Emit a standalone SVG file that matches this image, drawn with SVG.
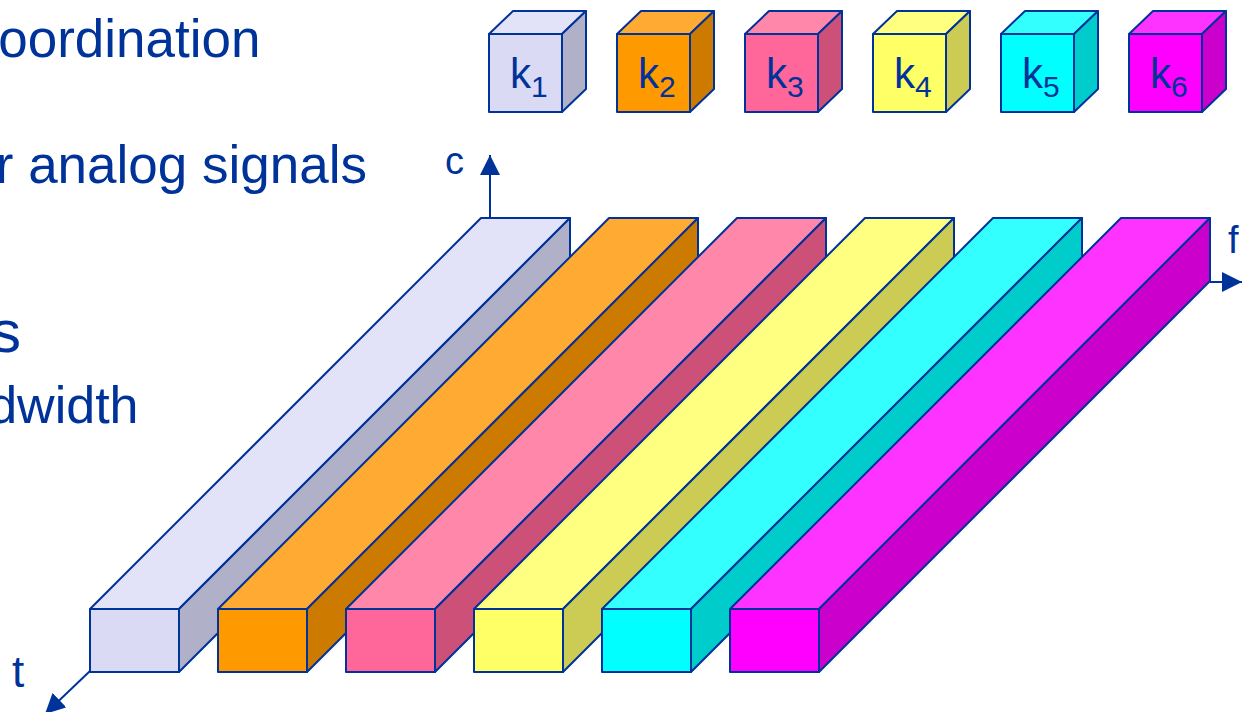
<svg xmlns="http://www.w3.org/2000/svg" width="1243" height="712" viewBox="0 0 1243 712">
  <defs>
    <style>
      .txt { font-family: "Liberation Sans", Arial, sans-serif; fill: #003399; }
      .edge { stroke: #003399; stroke-width: 2; stroke-linejoin: round; }
      .axis { stroke: #003399; stroke-width: 2; fill: none; }
      .c1f { fill: #dadaf4; } .c1t { fill: #e2e2f8; } .c1s { fill: #b0b0c8; }
      .c2f { fill: #ff9900; } .c2t { fill: #ffaa33; } .c2s { fill: #cc7a00; }
      .c3f { fill: #ff6699; } .c3t { fill: #ff88aa; } .c3s { fill: #cc5078; }
      .c4f { fill: #ffff66; } .c4t { fill: #ffff80; } .c4s { fill: #cccc55; }
      .c5f { fill: #00ffff; } .c5t { fill: #33ffff; } .c5s { fill: #00cccc; }
      .c6f { fill: #ff00ff; } .c6t { fill: #ff33ff; } .c6s { fill: #cc00cc; }
    </style>
    <marker id="arrow" markerUnits="userSpaceOnUse" markerWidth="20" markerHeight="20" refX="20" refY="10" orient="auto" viewBox="0 0 20 20">
      <path d="M0,0 L20,10 L0,20 Z" fill="#003399"/>
    </marker>
  </defs>

  <rect width="1243" height="712" fill="#ffffff"/>

  <!-- slide text, partly cut at the left edge -->
  <g id="slide-text">
    <text class="txt" x="260.5" y="57" font-size="53" text-anchor="end">oordination</text>
    <text class="txt" x="367" y="183" font-size="53" text-anchor="end">r analog signals</text>
    <text class="txt" x="21" y="352" font-size="60" text-anchor="end">s</text>
    <text class="txt" x="138.5" y="423" font-size="52" text-anchor="end">dwidth</text>
  </g>

  <!-- channel legend cubes -->
  <g id="cube-k1">
    <polygon class="edge c1t" points="489,34 513,11 586,11 562,34"/>
    <polygon class="edge c1s" points="562,34 586,11 586,89 562,112"/>
    <rect class="edge c1f" x="489" y="34" width="73" height="78"/>
    <text class="txt" x="510" y="88" font-size="42">k<tspan font-size="30" dy="9">1</tspan></text>
  </g>
  <g id="cube-k2">
    <polygon class="edge c2t" points="617,34 641,11 714,11 690,34"/>
    <polygon class="edge c2s" points="690,34 714,11 714,89 690,112"/>
    <rect class="edge c2f" x="617" y="34" width="73" height="78"/>
    <text class="txt" x="638" y="88" font-size="42">k<tspan font-size="30" dy="9">2</tspan></text>
  </g>
  <g id="cube-k3">
    <polygon class="edge c3t" points="745,34 769,11 842,11 818,34"/>
    <polygon class="edge c3s" points="818,34 842,11 842,89 818,112"/>
    <rect class="edge c3f" x="745" y="34" width="73" height="78"/>
    <text class="txt" x="766" y="88" font-size="42">k<tspan font-size="30" dy="9">3</tspan></text>
  </g>
  <g id="cube-k4">
    <polygon class="edge c4t" points="873,34 897,11 970,11 946,34"/>
    <polygon class="edge c4s" points="946,34 970,11 970,89 946,112"/>
    <rect class="edge c4f" x="873" y="34" width="73" height="78"/>
    <text class="txt" x="894" y="88" font-size="42">k<tspan font-size="30" dy="9">4</tspan></text>
  </g>
  <g id="cube-k5">
    <polygon class="edge c5t" points="1001,34 1025,11 1098,11 1074,34"/>
    <polygon class="edge c5s" points="1074,34 1098,11 1098,89 1074,112"/>
    <rect class="edge c5f" x="1001" y="34" width="73" height="78"/>
    <text class="txt" x="1022" y="88" font-size="42">k<tspan font-size="30" dy="9">5</tspan></text>
  </g>
  <g id="cube-k6">
    <polygon class="edge c6t" points="1129,34 1153,11 1226,11 1202,34"/>
    <polygon class="edge c6s" points="1202,34 1226,11 1226,89 1202,112"/>
    <rect class="edge c6f" x="1129" y="34" width="73" height="78"/>
    <text class="txt" x="1150" y="88" font-size="42">k<tspan font-size="30" dy="9">6</tspan></text>
  </g>

  <!-- axes -->
  <g id="axes">
    <line class="axis" x1="490" y1="218" x2="490" y2="155" marker-end="url(#arrow)"/>
    <line class="axis" x1="1210" y1="282" x2="1242" y2="282" marker-end="url(#arrow)"/>
    <line class="axis" x1="90" y1="671" x2="45" y2="714" marker-end="url(#arrow)"/>
    <text class="txt" x="445" y="174" font-size="38">c</text>
    <text class="txt" x="1228" y="253" font-size="38">f</text>
    <text class="txt" x="12" y="687" font-size="44">t</text>
  </g>

  <!-- frequency bands over time, drawn left to right so each covers its neighbour -->
  <g id="band-k1">
    <polygon class="edge c1t" points="90,609 481,218 570,218 179,609"/>
    <polygon class="edge c1s" points="179,609 570,218 570,281 179,672"/>
    <rect class="edge c1f" x="90" y="609" width="89" height="63"/>
  </g>
  <g id="band-k2">
    <polygon class="edge c2t" points="218,609 609,218 698,218 307,609"/>
    <polygon class="edge c2s" points="307,609 698,218 698,281 307,672"/>
    <rect class="edge c2f" x="218" y="609" width="89" height="63"/>
  </g>
  <g id="band-k3">
    <polygon class="edge c3t" points="346,609 737,218 826,218 435,609"/>
    <polygon class="edge c3s" points="435,609 826,218 826,281 435,672"/>
    <rect class="edge c3f" x="346" y="609" width="89" height="63"/>
  </g>
  <g id="band-k4">
    <polygon class="edge c4t" points="474,609 865,218 954,218 563,609"/>
    <polygon class="edge c4s" points="563,609 954,218 954,281 563,672"/>
    <rect class="edge c4f" x="474" y="609" width="89" height="63"/>
  </g>
  <g id="band-k5">
    <polygon class="edge c5t" points="602,609 993,218 1082,218 691,609"/>
    <polygon class="edge c5s" points="691,609 1082,218 1082,281 691,672"/>
    <rect class="edge c5f" x="602" y="609" width="89" height="63"/>
  </g>
  <g id="band-k6">
    <polygon class="edge c6t" points="730,609 1121,218 1210,218 819,609"/>
    <polygon class="edge c6s" points="819,609 1210,218 1210,281 819,672"/>
    <rect class="edge c6f" x="730" y="609" width="89" height="63"/>
  </g>
</svg>
